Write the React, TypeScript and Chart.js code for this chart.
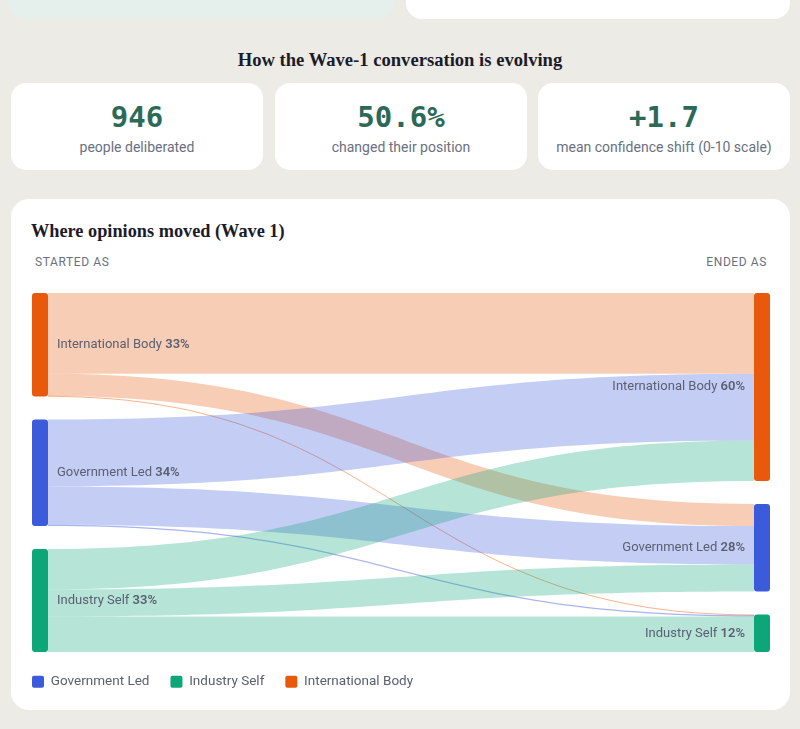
import React, { useEffect, useRef } from 'react';
import { Chart, registerables } from 'chart.js';

Chart.register(...registerables);

// ---- data ----
const NODE_NAMES = ['International Body', 'Government Led', 'Industry Self'];
const NODE_COLORS = ['#E8590C', '#3B5BDB', '#0CA678'];
const LEGEND_NAMES = ['Government Led', 'Industry Self', 'International Body'];

const FLOW_SOURCE = [
  'International Body', 'International Body', 'International Body',
  'Government Led', 'Government Led', 'Government Led',
  'Industry Self', 'Industry Self', 'Industry Self',
];
const FLOW_TARGET = [
  'International Body', 'Government Led', 'Industry Self',
  'International Body', 'Government Led', 'Industry Self',
  'International Body', 'Government Led', 'Industry Self',
];
const FLOW_COUNT = [244, 67, 2, 202, 116, 4, 122, 82, 107];

const STAT_VALUES = ['946', '50.6%', '+1.7'];
const STAT_LABELS = ['people deliberated', 'changed their position', 'mean confidence shift (0-10 scale)'];

const GAP_RATIO = 0.0735; // vertical padding between nodes, as a share of the total
const SANS = 'Roboto, "Noto Sans", sans-serif';
const SERIF = '"Liberation Serif", "DejaVu Serif", serif';
const MONO = '"DejaVu Sans Mono", "Liberation Mono", monospace';
const LABEL_COLOR = '#5B6072';

function hexA(hex: string, a: number) {
  const n = parseInt(hex.slice(1), 16);
  return `rgba(${(n >> 16) & 255},${(n >> 8) & 255},${n & 255},${a})`;
}

const TOTAL = FLOW_COUNT.reduce((a, b) => a + b, 0);
const GAP = TOTAL * GAP_RATIO;

const sankeyPlugin = {
  id: 'sankeyFlows',
  afterDatasetsDraw(chart: any) {
    const { ctx } = chart;
    const xs = chart.scales.x;
    const ys = chart.scales.y;
    const nodeW = 16;
    const outV = NODE_NAMES.map((n) => FLOW_COUNT.reduce((s, v, i) => s + (FLOW_SOURCE[i] === n ? v : 0), 0));
    const inV = NODE_NAMES.map((n) => FLOW_COUNT.reduce((s, v, i) => s + (FLOW_TARGET[i] === n ? v : 0), 0));
    const stack = (vals: number[]) => {
      let acc = 0;
      return vals.map((v) => {
        const s = acc;
        acc += v + GAP;
        return s;
      });
    };
    const leftY = stack(outV);
    const rightY = stack(inV);
    const xL = xs.getPixelForValue(0);
    const xR = xs.getPixelForValue(1);
    const x0 = xL + nodeW;
    const x1 = xR - nodeW;
    const xm = (x0 + x1) / 2;

    const srcOff = [...leftY];
    const tgtOff = [...rightY];
    ctx.save();
    NODE_NAMES.forEach((sName, s) => {
      NODE_NAMES.forEach((tName, t) => {
        const idx = FLOW_COUNT.findIndex((_, i) => FLOW_SOURCE[i] === sName && FLOW_TARGET[i] === tName);
        if (idx < 0) return;
        const v = FLOW_COUNT[idx];
        let a0 = ys.getPixelForValue(srcOff[s]);
        let a1 = ys.getPixelForValue(srcOff[s] + v);
        let b0 = ys.getPixelForValue(tgtOff[t]);
        let b1 = ys.getPixelForValue(tgtOff[t] + v);
        srcOff[s] += v;
        tgtOff[t] += v;
        if (a1 - a0 < 1.1) {
          const c = (a0 + a1) / 2; a0 = c - 0.55; a1 = c + 0.55;
          const d = (b0 + b1) / 2; b0 = d - 0.55; b1 = d + 0.55;
        }
        const thin = v / TOTAL < 0.01;
        ctx.beginPath();
        ctx.moveTo(x0, a0);
        ctx.bezierCurveTo(xm, a0, xm, b0, x1, b0);
        ctx.lineTo(x1, b1);
        ctx.bezierCurveTo(xm, b1, xm, a1, x0, a1);
        ctx.closePath();
        ctx.fillStyle = hexA(NODE_COLORS[s], thin ? 0.45 : 0.3);
        ctx.fill();
      });
    });

    // nodes
    const drawNode = (x: number, yv: number, v: number, color: string) => {
      const top = ys.getPixelForValue(yv);
      const bot = ys.getPixelForValue(yv + v);
      ctx.beginPath();
      ctx.roundRect(x, top, nodeW, bot - top, 3);
      ctx.fillStyle = color;
      ctx.fill();
      return (top + bot) / 2;
    };
    const FS = 13;
    const drawLabel = (name: string, pct: string, x: number, cy: number, align: 'left' | 'right') => {
      ctx.textBaseline = 'middle';
      ctx.fillStyle = LABEL_COLOR;
      ctx.font = `400 ${FS}px ${SANS}`;
      const w1 = ctx.measureText(name + ' ').width;
      ctx.font = `600 ${FS}px ${SANS}`;
      const w2 = ctx.measureText(pct).width;
      const start = align === 'left' ? x : x - w1 - w2;
      ctx.textAlign = 'left';
      ctx.font = `400 ${FS}px ${SANS}`;
      ctx.fillText(name + ' ', start, cy);
      ctx.font = `600 ${FS}px ${SANS}`;
      ctx.fillText(pct, start + w1, cy);
    };
    NODE_NAMES.forEach((n, i) => {
      const cyL = drawNode(xL, leftY[i], outV[i], NODE_COLORS[i]);
      drawLabel(n, Math.round((outV[i] / TOTAL) * 100) + '%', x0 + 9, cyL, 'left');
      const cyR = drawNode(x1, rightY[i], inV[i], NODE_COLORS[i]);
      drawLabel(n, Math.round((inV[i] / TOTAL) * 100) + '%', x1 - 9, cyR, 'right');
    });
    ctx.restore();
  },
};

function SankeyChart() {
  const ref = useRef<HTMLCanvasElement>(null);
  useEffect(() => {
    if (!ref.current) return;
    const chart = new Chart(ref.current, {
      type: 'scatter',
      data: {
        datasets: LEGEND_NAMES.map((n) => ({
          label: n,
          data: [],
          backgroundColor: NODE_COLORS[NODE_NAMES.indexOf(n)],
        })),
      },
      options: {
        animation: false,
        responsive: true,
        maintainAspectRatio: false,
        layout: { padding: { top: 13, right: 20, bottom: 1.5, left: 0 } },
        scales: {
          x: { type: 'linear', min: 0, max: 1, display: false },
          y: {
            type: 'linear',
            min: 0,
            max: TOTAL + 2 * GAP,
            reverse: true,
            display: true,
            grid: { display: false },
            border: { display: false },
            ticks: { display: false },
            afterFit: (s: any) => {
              s.width = 21;
            },
          },
        },
        plugins: {
          tooltip: { enabled: false },
          legend: {
            position: 'bottom',
            align: 'start',
            title: { display: true, text: ' ', padding: 0, font: { size: 1.67, lineHeight: 1.2 } },
            labels: {
              boxWidth: 12,
              boxHeight: 12,
              padding: 21,
              color: LABEL_COLOR,
              font: { family: SANS, size: 13.5 },
              useBorderRadius: true,
              borderRadius: 2,
              generateLabels: () =>
                LEGEND_NAMES.map((n, i) => ({
                  text: n,
                  fillStyle: NODE_COLORS[NODE_NAMES.indexOf(n)],
                  strokeStyle: NODE_COLORS[NODE_NAMES.indexOf(n)],
                  fontColor: LABEL_COLOR,
                  lineWidth: 0,
                  borderRadius: 2,
                  datasetIndex: i,
                  hidden: false,
                })),
            },
          },
        },
      } as any,
      plugins: [sankeyPlugin],
    });
    return () => chart.destroy();
  }, []);
  return <canvas ref={ref} />;
}

export default function App() {
  const cardLefts = [11, 275, 538];
  return (
    <div
      style={{
        position: 'fixed',
        left: 0,
        top: 0,
        width: 800,
        height: 729,
        background: '#ECEBE5',
        overflow: 'hidden',
        fontFamily: SANS,
      }}
    >
      <div style={{ position: 'absolute', left: 8, top: -40, width: 386, height: 59, background: '#E5EFEB', borderRadius: 16 }} />
      <div style={{ position: 'absolute', left: 406, top: -40, width: 384, height: 59, background: '#FFFFFF', borderRadius: 16 }} />

      <div
        style={{
          position: 'absolute',
          left: 0,
          width: 800,
          top: 48,
          textAlign: 'center',
          fontFamily: SERIF,
          fontWeight: 700,
          fontSize: 18.6,
          lineHeight: '24px',
          color: '#1B1B2B',
        }}
      >
        How the Wave-1 conversation is evolving
      </div>

      {STAT_VALUES.map((v, i) => (
        <div
          key={i}
          style={{
            position: 'absolute',
            left: cardLefts[i],
            top: 83,
            width: 252,
            height: 87,
            background: '#FFFFFF',
            borderRadius: 15,
            textAlign: 'center',
          }}
        >
          <div
            style={{
              position: 'absolute',
              left: 0,
              right: 0,
              top: 15,
              fontFamily: MONO,
              fontWeight: 700,
              fontSize: 29,
              lineHeight: '38px',
              color: '#2C6A57',
            }}
          >
            {v}
          </div>
          <div
            style={{
              position: 'absolute',
              left: 0,
              right: 0,
              top: 55,
              fontSize: 14,
              lineHeight: '18px',
              color: '#6B7080',
            }}
          >
            {STAT_LABELS[i]}
          </div>
        </div>
      ))}

      <div
        style={{
          position: 'absolute',
          left: 11,
          top: 199,
          width: 779,
          height: 511,
          background: '#FFFFFF',
          borderRadius: 18,
        }}
      />
      <div
        style={{
          position: 'absolute',
          left: 31,
          top: 219,
          fontFamily: SERIF,
          fontWeight: 700,
          fontSize: 18.3,
          lineHeight: '24px',
          color: '#1B1B2B',
        }}
      >
        Where opinions moved (Wave 1)
      </div>
      <div
        style={{
          position: 'absolute',
          left: 35,
          top: 254,
          fontSize: 12,
          lineHeight: '16px',
          letterSpacing: 0.6,
          color: '#6B7080',
        }}
      >
        STARTED AS
      </div>
      <div
        style={{
          position: 'absolute',
          right: 800 - 767,
          top: 254,
          fontSize: 12,
          lineHeight: '16px',
          letterSpacing: 0.6,
          color: '#6B7080',
        }}
      >
        ENDED AS
      </div>
      <div style={{ position: 'absolute', left: 11, top: 280, width: 779, height: 420 }}>
        <SankeyChart />
      </div>
    </div>
  );
}
